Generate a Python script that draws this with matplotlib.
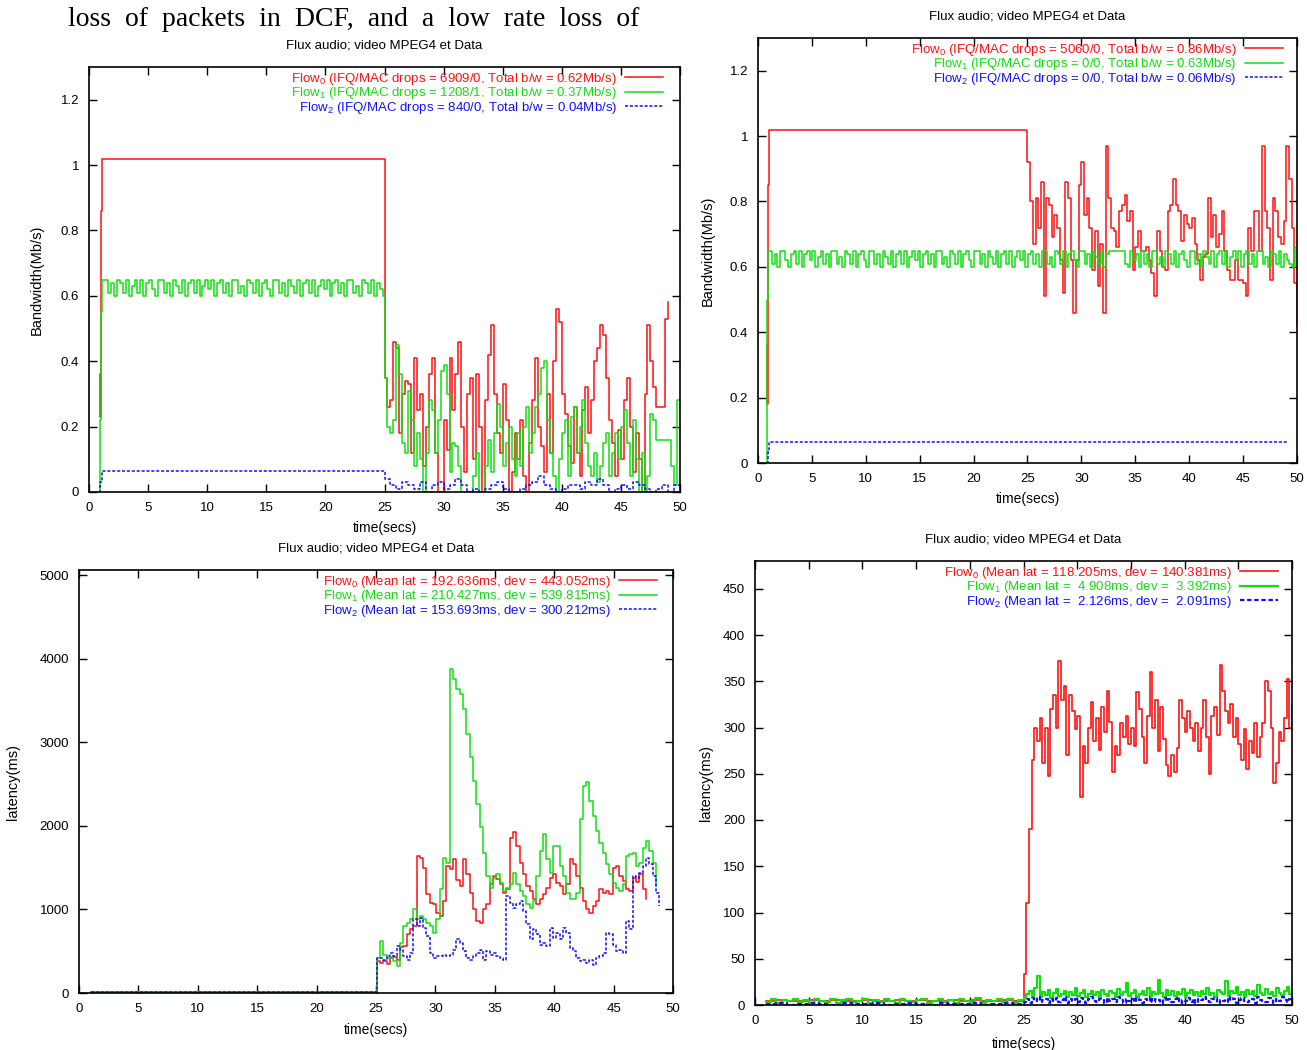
import numpy as np
import matplotlib.pyplot as plt

plt.rcParams['font.family'] = ['Liberation Sans', 'DejaVu Sans']
plt.rcParams['mathtext.fontset'] = 'custom'
plt.rcParams['mathtext.rm'] = 'Liberation Sans'
plt.rcParams['mathtext.it'] = 'Liberation Sans'

RED = '#ff1010'
GREEN = '#10e010'
BLUE = '#1010ff'
DASH = (0, (2.0, 1.2))

title = 'Flux audio; video MPEG4 et Data'
xticks = [0, 5, 10, 15, 20, 25, 30, 35, 40, 45, 50]
bw_ticks = [0, 0.2, 0.4, 0.6, 0.8, 1.0, 1.2]
bw_ticklabels = ['0', '0.2', '0.4', '0.6', '0.8', '1', '1.2']
lat3_ticks = [0, 1000, 2000, 3000, 4000, 5000]
lat4_ticks = [0, 50, 100, 150, 200, 250, 300, 350, 400, 450]

# ---------------- top left: bandwidth (Mb/s, hundredths) ----------------
bw1_labels = [r'Flow$_0$ (IFQ/MAC drops = 6909/0, Total b/w = 0.62Mb/s)',
              r'Flow$_1$ (IFQ/MAC drops = 1208/1, Total b/w = 0.37Mb/s)',
              r'Flow$_2$ (IFQ/MAC drops = 840/0, Total b/w = 0.04Mb/s)']
bw1_red_start_t = [0.9, 0.95, 1.0, 1.05, 1.1]
bw1_red_start_v = [36, 23, 54, 86, 102]
bw1_red = [35, 26, 28, 46, 44, 18, 30, 34, 33, 12,
           41, 25, 30, 8, 20, 36, 41, 12, 0, 0,
           22, 13, 41, 25, 36, 46, 20, 6, 30, 35,
           10, 36, 20, 0, 28, 42, 51, 30, 18, 12,
           33, 22, 0, 6, 18, 10, 22, 5, 0, 15,
           28, 41, 20, 14, 6, 30, 12, 40, 56, 52,
           30, 24, 14, 9, 26, 12, 5, 25, 32, 18,
           28, 40, 44, 51, 48, 35, 22, 15, 5, 19,
           10, 28, 35, 20, 6, 18, 10, 0, 30, 51,
           40, 32, 26, 26, 26, 53, 58]
bw1_green_start_t = [0.85, 0.95, 1.0]
bw1_green_start_v = [0, 22, 55]
bw1_green_osc = [65, 65, 61, 64, 60, 65, 64, 61, 65, 60,
                 63, 65, 61, 65, 60, 64, 65, 62, 60, 65,
                 65, 61, 64, 60, 65, 63, 61, 65, 60, 64,
                 65, 61, 65, 60, 63, 65, 62, 65, 60, 64,
                 65, 61, 64, 60, 65, 65, 61, 63, 60, 65,
                 64, 61, 65, 60, 64, 65, 62, 60, 65, 65,
                 61, 64, 60, 65, 63, 61, 65, 60, 64, 65,
                 61, 65, 60, 63, 65, 62, 65, 60, 64, 65,
                 61, 64, 60, 65, 65, 61, 63, 60, 65, 64,
                 61, 65, 60, 64, 62, 60]
bw1_green = [35, 20, 18, 22, 45, 36, 15, 12, 31, 22,
             8, 18, 10, 0, 12, 28, 25, 12, 22, 37,
             39, 30, 6, 15, 14, 8, 0, 0, 0, 0,
             5, 12, 0, 0, 8, 16, 6, 18, 27, 20,
             8, 15, 20, 10, 5, 18, 8, 20, 26, 12,
             18, 26, 30, 38, 40, 22, 12, 5, 0, 10,
             18, 22, 5, 23, 26, 12, 20, 28, 15, 8,
             5, 12, 3, 8, 15, 18, 5, 12, 18, 10,
             20, 25, 15, 5, 22, 10, 0, 12, 0, 5,
             24, 22, 16, 16, 16, 16, 16, 8, 2, 28, 28]
bw1_blue_start_t = [0.85, 0.95]
bw1_blue_start_v = [0, 3]
bw1_blue_flat = [6.5, 6.5, 6.3, 6.5, 6.5, 6.4, 6.5, 6.5, 6.3, 6.5, 6.5, 6.4]
bw1_blue = [4, 2, 1, 3, 2, 1, 3, 0, 2, 3,
            1, 2, 4, 2, 0, 1, 0, 1, 2, 3,
            1, 0, 0, 1, 2, 3, 5, 2, 1, 0,
            1, 2, 2, 1, 3, 2, 4, 2, 0, 1,
            2, 1, 3, 2, 1, 0, 1, 2, 0, 2, 3]

# ---------------- top right: bandwidth (Mb/s, hundredths) ----------------
bw2_labels = [r'Flow$_0$ (IFQ/MAC drops = 5060/0, Total b/w = 0.86Mb/s)',
              r'Flow$_1$ (IFQ/MAC drops = 0/0, Total b/w = 0.63Mb/s)',
              r'Flow$_2$ (IFQ/MAC drops = 0/0, Total b/w = 0.06Mb/s)']
bw2_red_start_t = [0.8, 0.85, 0.9, 0.95, 1.0]
bw2_red_start_v = [36, 18, 50, 85, 102]
bw2_red = [92, 80, 67, 81, 72, 86, 51, 81, 79, 69,
           76, 72, 62, 52, 86, 81, 62, 46, 62, 85,
           92, 76, 81, 72, 59, 71, 54, 67, 46, 97,
           81, 72, 71, 66, 77, 79, 82, 74, 77, 59,
           66, 71, 65, 65, 66, 62, 58, 51, 71, 65,
           60, 59, 77, 79, 87, 79, 77, 68, 76, 73,
           72, 75, 67, 62, 56, 63, 64, 81, 69, 76,
           66, 70, 77, 65, 59, 56, 56, 62, 56, 56,
           55, 51, 72, 65, 77, 77, 65, 97, 77, 72,
           56, 81, 77, 69, 67, 74, 97, 87, 72, 55, 42]
bw2_green_start_t = [0.75, 0.85, 0.95]
bw2_green_start_v = [0, 50, 65]
bw2_green = [65, 61, 64, 60, 65, 65, 62, 60, 64, 65,
             61, 65, 60, 64, 65, 62, 65, 60, 63, 65,
             61, 64, 60, 65, 65, 61, 63, 60, 65, 64,
             61, 65, 60, 64, 65, 62, 60, 65, 65, 61,
             64, 60, 65, 63, 61, 65, 60, 64, 65, 61,
             65, 60, 63, 65, 62, 65, 60, 64, 65, 61,
             64, 60, 65, 65, 61, 63, 60, 65, 64, 61,
             65, 60, 64, 65, 62, 60, 65, 65, 61, 64,
             60, 65, 63, 61, 65, 60, 64, 65, 61, 65,
             60, 63, 65, 62, 65, 60, 64, 65, 61, 64,
             60, 65, 65, 61, 63, 60, 65, 64, 61, 65,
             60, 64, 65, 62, 60, 65, 65, 61, 64, 60,
             65, 63, 61, 65, 60, 64, 65, 65, 65, 65,
             65, 65, 61, 60, 65, 62, 64, 60, 65, 61,
             64, 60, 65, 65, 61, 63, 60, 65, 64, 61,
             65, 60, 64, 65, 62, 60, 65, 65, 61, 64,
             60, 65, 63, 61, 65, 60, 64, 65, 61, 65,
             60, 63, 65, 62, 65, 60, 64, 65, 61, 64,
             60, 65, 65, 61, 63, 60, 65, 64, 61, 65,
             60, 64, 62, 61, 60, 66, 66]
bw2_blue_start_t = [0.8, 0.9]
bw2_blue_start_v = [0, 3.5]
bw2_blue = [6.5, 6.5, 6.4, 6.5, 6.5, 6.3, 6.5, 6.5, 6.4, 6.5,
            6.5, 6.4, 6.5, 6.5, 6.3, 6.5, 6.5, 6.4, 6.5, 6.5,
            6.4, 6.5, 6.5, 6.3, 6.5]

# ---------------- bottom left: latency (ms) ----------------
lat3_labels = [r'Flow$_0$ (Mean lat = 192.636ms, dev = 443.052ms)',
               r'Flow$_1$ (Mean lat = 210.427ms, dev = 539.815ms)',
               r'Flow$_2$ (Mean lat = 153.693ms, dev = 300.212ms)']
lat3_pre = [10, 12, 8, 11, 9, 13, 10, 12, 9, 11, 10, 12,
            8, 11, 10, 13, 9, 12, 10, 11, 9, 12, 10, 11]
lat3_red = [380, 360, 380, 350, 420, 430, 400, 550, 560, 700,
            760, 800, 1640, 1620, 1500, 1180, 1080, 1060, 960, 920,
            1100, 1520, 1480, 1600, 1350, 1280, 1600, 1420, 1200, 1000,
            860, 840, 1000, 1060, 1300, 1400, 1360, 1300, 1200, 1250,
            1850, 1920, 1760, 1560, 1420, 1280, 1220, 1120, 1060, 1120,
            1180, 1260, 1380, 1420, 1320, 1280, 1180, 1300, 1600, 1540,
            1400, 1260, 1100, 1000, 960, 1040, 1100, 1240, 1200, 1220,
            1180, 1500, 1520, 1400, 1340, 1240, 1220, 1380, 1330, 1420,
            1250, 1120]
lat3_green = [420, 620, 450, 420, 430, 380, 320, 600, 800, 840,
              880, 1000, 880, 920, 880, 840, 800, 720, 880, 1240,
              1620, 1560, 3880, 3760, 3640, 3580, 3400, 3100, 2820, 2540,
              2260, 1980, 1680, 1400, 1260, 1380, 1420, 1320, 1220, 1260,
              1300, 1440, 1300, 1220, 1160, 1060, 1020, 1100, 1400, 1700,
              1900, 1600, 1440, 1760, 1760, 1520, 1400, 1200, 1120, 1120,
              1200, 2080, 2480, 2520, 2300, 2120, 1940, 1800, 1680, 1540,
              1420, 1320, 1260, 1220, 1300, 1640, 1660, 1680, 1520, 1560,
              1740, 1820, 1700, 1560, 1280]
lat3_blue = [420, 420, 400, 440, 480, 440, 560, 520, 440, 400,
             480, 880, 800, 900, 780, 680, 480, 420, 440, 440,
             460, 440, 460, 520, 640, 600, 500, 420, 400, 440,
             480, 520, 400, 500, 460, 480, 440, 420, 400, 1160,
             1080, 1020, 1060, 1100, 980, 820, 640, 760, 700, 580,
             600, 560, 780, 660, 720, 640, 780, 720, 540, 500,
             420, 380, 400, 360, 400, 340, 420, 440, 480, 720,
             700, 580, 500, 520, 480, 860, 760, 1400, 1380, 1440,
             1520, 1620, 1540, 1400, 1200, 1040]

# ---------------- bottom right: latency (ms) ----------------
lat4_labels = [r'Flow$_0$ (Mean lat = 118.205ms, dev = 140.381ms)',
               r'Flow$_1$ (Mean lat =  4.908ms, dev =  3.392ms)',
               r'Flow$_2$ (Mean lat =  2.126ms, dev =  2.091ms)']
lat4_red_pre = [4, 5, 4, 4, 5, 4, 5, 4, 4, 5, 4, 4,
                5, 4, 5, 4, 4, 5, 4, 5, 4, 4, 5, 4]
lat4_red = [34, 110, 190, 265, 300, 285, 310, 262, 300, 248,
            320, 335, 300, 372, 330, 345, 270, 335, 318, 298,
            312, 225, 280, 262, 300, 328, 285, 310, 276, 322,
            295, 340, 306, 252, 280, 270, 305, 290, 312, 282,
            300, 280, 338, 320, 290, 262, 312, 360, 300, 330,
            275, 322, 288, 260, 248, 270, 252, 278, 330, 310,
            295, 318, 300, 285, 305, 275, 300, 330, 290, 250,
            312, 322, 292, 368, 340, 318, 305, 325, 290, 310,
            282, 265, 298, 255, 285, 272, 305, 268, 290, 305,
            350, 340, 300, 240, 262, 295, 285, 310, 352, 300, 325]
lat4_green_pre = [3, 6, 2, 5, 4, 7, 3, 5, 2, 6, 4, 3,
                  6, 2, 5, 7, 3, 4, 6, 2, 5, 3, 6, 4,
                  2, 7, 4, 3, 5, 6, 2, 4, 7, 3, 5, 2,
                  6, 4, 3, 8, 2, 5, 4, 6, 3, 7, 2, 5]
lat4_green = [8, 12, 15, 10, 18, 31, 9, 14, 11, 16,
              8, 13, 17, 10, 12, 15, 9, 14, 11, 18,
              10, 13, 16, 9, 12, 15, 11, 14, 8, 16,
              12, 10, 15, 13, 9, 17, 11, 14, 24, 10,
              13, 16, 9, 12, 15, 11, 18, 10, 14, 12,
              27, 13, 9, 16, 11, 15, 10, 14, 12, 17,
              9, 13, 16, 11, 14, 10, 15, 12, 18, 11,
              13, 9, 16, 14, 12, 26, 10, 15, 13, 20,
              11, 14, 9, 16, 12, 15, 10, 22, 13, 11,
              17, 12, 14, 10, 18, 13, 11, 15, 19, 12, 14]
lat4_blue_pre = [1, 2, 0, 1, 2, 1, 0, 2, 1, 1, 2, 0,
                 1, 2, 1, 0, 2, 1, 1, 2, 0, 1, 2, 1]
lat4_blue = [3, 6, 2, 8, 4, 9, 3, 5, 7, 2,
             6, 4, 8, 3, 5, 9, 2, 6, 4, 7,
             3, 8, 5, 2, 6, 9, 4, 3, 7, 5,
             2, 8, 4, 6, 3, 9, 5, 2, 7, 4,
             6, 3, 8, 5, 2, 7, 4, 9, 3, 6,
             5, 2, 8, 4, 7, 3, 6, 9, 2, 5,
             4, 8, 3, 6, 2, 7, 5, 9, 4, 3,
             6, 8, 2, 5, 4, 7, 3, 9, 6, 2,
             5, 8, 4, 3, 7, 6, 2, 9, 5, 4,
             3, 8, 6, 2, 7, 4, 9, 5, 3, 6, 4]


def grid(t0, dt, vals):
    return t0 + dt * np.arange(len(vals))


def series(parts):
    # parts: list of (times, values)
    t = np.concatenate([np.asarray(p[0], dtype=float) for p in parts])
    v = np.concatenate([np.asarray(p[1], dtype=float) for p in parts])
    return t, v


def style(ax, ylim, yticks, yticklabels, ylabel, labels, ylabel_pad, xlabel_pad, leg_dx):
    ax.set_xlim(0, 50)
    ax.set_ylim(*ylim)
    ax.set_xticks(xticks)
    ax.set_yticks(yticks)
    ax.set_yticklabels(yticklabels)
    ax.tick_params(direction='in', top=True, right=True, length=6, width=1,
                   labelsize=9.5, pad=7)
    for s in ax.spines.values():
        s.set_linewidth(1.2)
    ax.set_xlabel('time(secs)', fontsize=10, labelpad=xlabel_pad)
    ax.set_ylabel(ylabel, fontsize=10.5, labelpad=ylabel_pad)
    ax.set_title(title, fontsize=9.5, pad=13)
    # legend corner given as pixel offsets from the axes' top right corner
    bb = ax.get_position()
    w_px, h_px = bb.width * W, bb.height * H
    ax.legend(labels, loc='upper right', frameon=False, markerfirst=False,
              fontsize=9.5, labelcolor='linecolor', handlelength=2.9,
              handletextpad=0.6, labelspacing=-0.12, borderaxespad=0.0,
              borderpad=0.0,
              bbox_to_anchor=(1 - leg_dx / w_px, 1 - 4 / h_px))


W, H = 1307, 1050
fig = plt.figure(figsize=(W / 100, H / 100), dpi=100)
fig.text(68 / W, 1 - 20 / H, 'loss  of  packets  in  DCF,  and  a  low  rate  loss  of',
         family='Liberation Serif', fontsize=20, va='center', ha='left')

# top left
ax1 = fig.add_axes([89 / W, (H - 492) / H, (680 - 89) / W, (492 - 67) / H])
t, v = series([(bw1_red_start_t, bw1_red_start_v), (grid(25.0, 0.25, bw1_red), bw1_red)])
ax1.plot(t, v / 100, drawstyle='steps-post', color=RED, lw=1.1)
t, v = series([(bw1_green_start_t, bw1_green_start_v),
               (grid(1.1, 0.25, bw1_green_osc), bw1_green_osc),
               (grid(25.0, 0.25, bw1_green), bw1_green)])
ax1.plot(t, v / 100, drawstyle='steps-post', color=GREEN, lw=1.1)
t, v = series([(bw1_blue_start_t, bw1_blue_start_v),
               (grid(1.1, 2.0, bw1_blue_flat), bw1_blue_flat),
               (grid(25.0, 0.5, bw1_blue), bw1_blue)])
ax1.plot(t, v / 100, drawstyle='steps-post', color=BLUE, lw=1.1, ls=DASH)
style(ax1, (0, 1.3), bw_ticks, bw_ticklabels, 'Bandwidth(Mb/s)', bw1_labels, 12, 5.5, 17)

# top right
ax2 = fig.add_axes([758 / W, (H - 463) / H, (1297 - 758) / W, (463 - 38) / H])
t, v = series([(bw2_red_start_t, bw2_red_start_v), (grid(25.0, 0.25, bw2_red), bw2_red)])
ax2.plot(t, v / 100, drawstyle='steps-post', color=RED, lw=1.1)
t, v = series([(bw2_green_start_t, bw2_green_start_v), (grid(1.05, 0.25, bw2_green), bw2_green)])
ax2.plot(t, v / 100, drawstyle='steps-post', color=GREEN, lw=1.1)
t, v = series([(bw2_blue_start_t, bw2_blue_start_v), (grid(1.05, 2.0, bw2_blue), bw2_blue)])
ax2.plot(t, v / 100, drawstyle='steps-post', color=BLUE, lw=1.1, ls=DASH)
style(ax2, (0, 1.3), bw_ticks, bw_ticklabels, 'Bandwidth(Mb/s)', bw2_labels, 11, 5.5, 14)

# bottom left
ax3 = fig.add_axes([79 / W, (H - 993) / H, (673 - 79) / W, (993 - 570) / H])
dt3 = 0.28
t, v = series([(grid(1.0, 1.0, lat3_pre), lat3_pre), (grid(25.05, dt3, lat3_red), lat3_red)])
ax3.plot(t, v, drawstyle='steps-post', color=RED, lw=1.1)
t, v = series([(grid(1.0, 1.0, lat3_pre), lat3_pre), (grid(25.05, dt3, lat3_green), lat3_green)])
ax3.plot(t, v, drawstyle='steps-post', color=GREEN, lw=1.1)
t, v = series([(grid(1.0, 1.0, lat3_pre), lat3_pre), (grid(25.05, dt3, lat3_blue), lat3_blue)])
ax3.plot(t, v, drawstyle='steps-post', color=BLUE, lw=1.1, ls=DASH)
style(ax3, (0, 5060), lat3_ticks, [str(x) for x in lat3_ticks], 'latency(ms)', lat3_labels, 14, 6, 16)

# bottom right
ax4 = fig.add_axes([755 / W, (H - 1005) / H, (1292 - 755) / W, (1005 - 561) / H])
t, v = series([(grid(1.0, 1.0, lat4_red_pre), lat4_red_pre), (grid(25.0, 0.25, lat4_red), lat4_red)])
ax4.plot(t, v, drawstyle='steps-post', color=RED, lw=1.2)
t, v = series([(grid(1.0, 0.5, lat4_green_pre), lat4_green_pre), (grid(25.0, 0.25, lat4_green), lat4_green)])
ax4.plot(t, v, drawstyle='steps-post', color=GREEN, lw=1.6)
t, v = series([(grid(1.0, 1.0, lat4_blue_pre), lat4_blue_pre), (grid(25.0, 0.25, lat4_blue), lat4_blue)])
ax4.plot(t, v, drawstyle='steps-post', color=BLUE, lw=1.6, ls=DASH)
style(ax4, (0, 480), lat4_ticks, [str(x) for x in lat4_ticks], 'latency(ms)', lat4_labels, 7.5, 7.5, 14)

fig.savefig('out.png', dpi=100)
